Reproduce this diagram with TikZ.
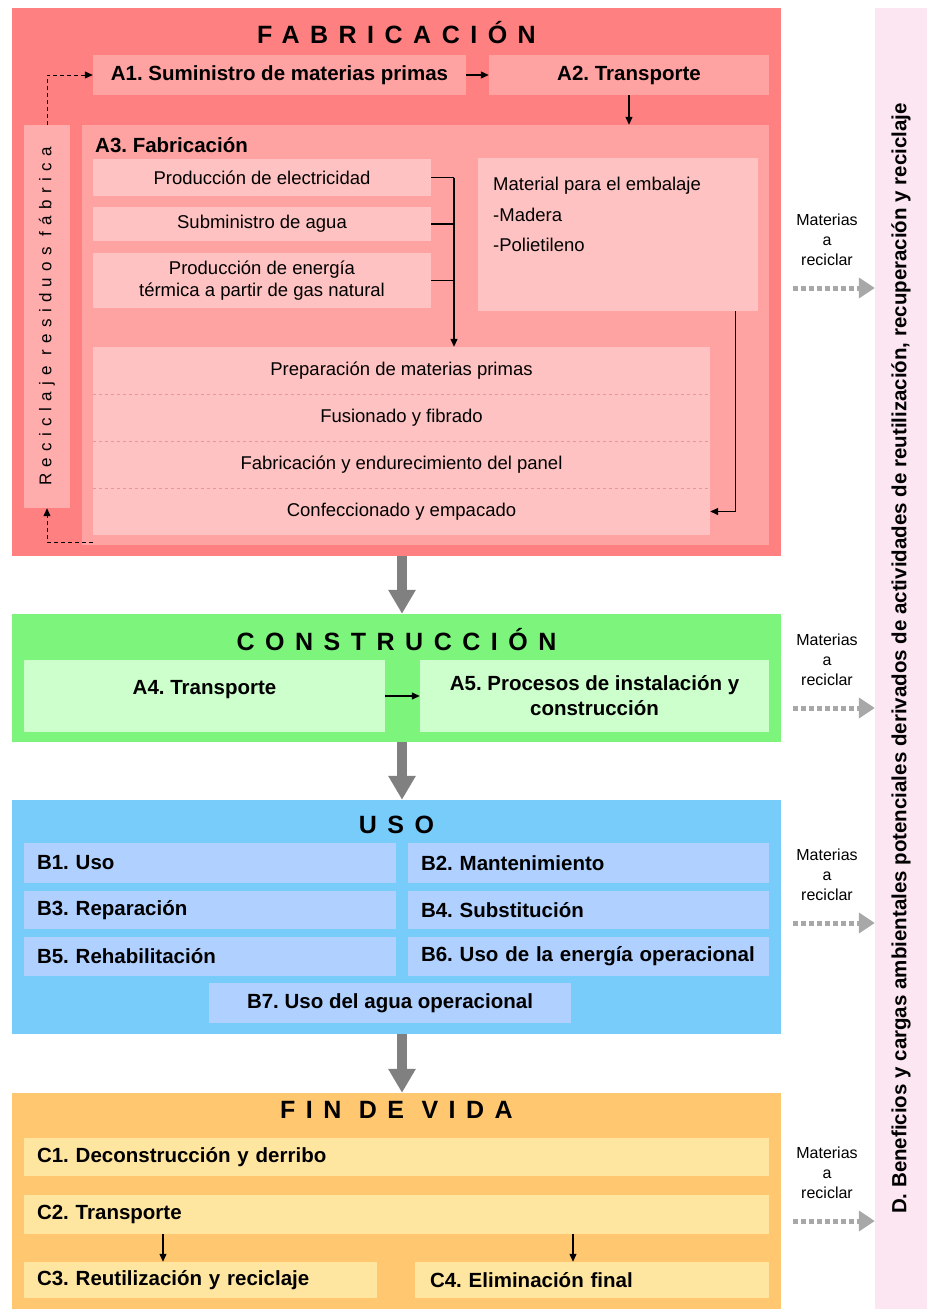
\documentclass[tikz,border=0pt]{standalone}
\usepackage{fontspec}
\setmainfont{Liberation Sans}
\usetikzlibrary{arrows.meta,positioning}
\frenchspacing

\definecolor{fabout}{RGB}{255,128,128}
\definecolor{fabin}{RGB}{255,162,162}
\definecolor{fabside}{RGB}{255,172,172}
\definecolor{fabsub}{RGB}{255,194,194}
\definecolor{fabsep}{RGB}{235,150,150}
\definecolor{consout}{RGB}{125,245,125}
\definecolor{consin}{RGB}{204,255,204}
\definecolor{usoout}{RGB}{120,204,250}
\definecolor{usoin}{RGB}{176,208,255}
\definecolor{finout}{RGB}{255,200,112}
\definecolor{finin}{RGB}{255,230,160}
\definecolor{dcol}{RGB}{252,230,242}
\definecolor{arrgray}{RGB}{128,128,128}
\definecolor{recgray}{RGB}{168,168,168}

\newcommand\boxfont{\fontsize{20.5}{25}\selectfont\bfseries}
\newcommand\plainfont{\fontsize{18.5}{22}\selectfont}
\newcommand\titlefont{\fontsize{25}{30}\selectfont\bfseries\addfontfeature{LetterSpace=42}}
\newcommand\sidefont{\fontsize{17}{20}\selectfont\addfontfeature{LetterSpace=37}}
\newcommand\matfont{\fontsize{16}{20}\selectfont}
\newcommand\dfont{\fontsize{20.5}{24}\selectfont\bfseries}

\begin{document}
\begin{tikzpicture}[x=1pt, y=-1pt,
  stage/.style={fill=#1, minimum width=769pt, inner sep=0pt},
  blk/.style={fill=#1, inner xsep=13pt, inner ysep=0pt, align=left, font=\boxfont},
  cblk/.style={fill=#1, inner sep=0pt, align=center, font=\boxfont},
  sub/.style={fill=fabsub, inner sep=0pt, align=center, font=\plainfont},
  ttl/.style={anchor=base, inner sep=0pt, font=\titlefont},
  mat/.style={inner sep=0pt, align=center, font=\matfont},
  arr/.style={line width=1.2pt, -{Triangle[length=8pt,width=7pt]}},
  recloop/.style={line width=1pt, dash pattern=on 4pt off 3pt, -{Triangle[length=8pt,width=7pt]}},
  bigarr/.style={draw=arrgray, line width=10pt, -{Triangle[length=24pt,width=26pt]}},
  recarr/.style={draw=recgray, line width=5pt, dash pattern=on 5pt off 3pt, -{Triangle[length=16pt,width=20pt]}},
  sep/.style={draw=fabsep, dashed, line width=0.6pt}
]
\useasboundingbox (0,0) rectangle (927,1309);

% fabricacion
\node[stage=fabout, minimum height=548pt] (fab) at (396.5,282) {};
\node[ttl] (fabt) at (396.5,43) {FABRICACIÓN};
\node[cblk=fabin, minimum width=373pt, minimum height=40pt] (a1) at (279.5,75) {A1. Suministro de materias primas};
\node[cblk=fabin, minimum width=280pt, minimum height=40pt] (a2) at (629,75) {A2. Transporte};
\node[fill=fabside, minimum width=46pt, minimum height=383pt, inner sep=0pt, font=\sidefont] (recyc) at (47,316.5) {\rotatebox{90}{Reciclaje residuos fábrica}};
\node[fill=fabin, minimum width=687pt, minimum height=420pt, inner sep=0pt] (a3) at (425.5,335) {};
\node[anchor=west, inner sep=0pt, font=\boxfont] (a3t) at (95,145) {A3. Fabricación};
\node[sub, minimum width=338pt, minimum height=37pt] (e1) at (262,177.5) {Producción de electricidad};
\node[sub, minimum width=338pt, minimum height=34pt] (e2) at (262,224) {Subministro de agua};
\node[sub, minimum width=338pt, minimum height=55pt] (e3) at (262,280.5) {Producción de energía\\térmica a partir de gas natural};
\node[fill=fabsub, minimum width=280pt, minimum height=153pt, inner sep=0pt] (emb) at (618,234.5) {};
\node[anchor=north west, align=left, inner sep=0pt, font=\plainfont] (embt) at (493,177) {Material para el embalaje\\[8.5pt]-Madera\\[8.5pt]-Polietileno};
\node[sub, minimum width=617pt, minimum height=47pt] (p1) at (401.5,370.5) {Preparación de materias primas};
\node[sub, minimum width=617pt, minimum height=47pt] (p2) at (401.5,417.5) {Fusionado y fibrado};
\node[sub, minimum width=617pt, minimum height=47pt] (p3) at (401.5,464.5) {Fabricación y endurecimiento del panel};
\node[sub, minimum width=617pt, minimum height=47pt] (p4) at (401.5,511.5) {Confeccionado y empacado};
\foreach \i in {1,2,3} \draw[sep] (p\i.south west) -- (p\i.south east);

\draw[arr] (a1) -- (a2);
\draw[arr] (a2.south) -- (a2.south |- a3.north);
\coordinate (brk) at (454,172);
\draw[line width=1.2pt] (e1.east) -- (e1.east -| brk);
\draw[line width=1.2pt] (e2.east) -- (e2.east -| brk);
\draw[line width=1.2pt] (e3.east) -- (e3.east -| brk);
\draw[arr] (e1.east -| brk) -- (brk |- p1.north);
\draw[arr] ([xshift=-23pt]emb.south east) |- (p4.east);
\draw[recloop] ([xshift=11pt,yshift=3pt]a3.south west) -| (recyc.south);
\draw[recloop] (recyc.north) |- (a1.west);

% construccion
\node[stage=consout, minimum height=128pt] (cons) at (396.5,678) {};
\node[ttl] (const) at (396.5,650) {CONSTRUCCIÓN};
\node[cblk=consin, minimum width=361pt, minimum height=72pt, text depth=17pt] (a4) at (204.5,696) {A4. Transporte};
\node[cblk=consin, minimum width=349pt, minimum height=72pt] (a5) at (594.5,696) {A5. Procesos de instalación y\\construcción};
\draw[arr] (a4) -- (a5);

% uso
\node[stage=usoout, minimum height=234pt] (uso) at (396.5,917) {};
\node[ttl] (usot) at (396.5,833) {USO};
\node[blk=usoin, text width=346pt, minimum height=40pt] (b1) at (210,863) {B1. Uso};
\node[blk=usoin, text width=335pt, minimum height=40pt] (b2) at (588.5,863) {B2. Mantenimiento};
\node[blk=usoin, text width=346pt, minimum height=38pt] (b3) at (210,910) {B3. Reparación};
\node[blk=usoin, text width=335pt, minimum height=38pt] (b4) at (588.5,910) {B4. Substitución};
\node[blk=usoin, text width=346pt, minimum height=39pt] (b5) at (210,956.5) {B5. Rehabilitación};
\node[blk=usoin, text width=335pt, minimum height=39pt] (b6) at (588.5,956.5) {B6. Uso de la energía operacional};
\node[cblk=usoin, minimum width=362pt, minimum height=40pt] (b7) at (390,1003) {B7. Uso del agua operacional};

% fin de vida
\node[stage=finout, minimum height=216pt] (fin) at (396.5,1201) {};
\node[ttl] (fint) at (396.5,1118) {FIN DE VIDA};
\node[blk=finin, text width=719pt, minimum height=38pt] (c1) at (396.5,1157) {C1. Deconstrucción y derribo};
\node[blk=finin, text width=719pt, minimum height=39pt] (c2) at (396.5,1214.5) {C2. Transporte};
\node[blk=finin, text width=327pt, minimum height=36pt] (c3) at (200.5,1280) {C3. Reutilización y reciclaje};
\node[blk=finin, inner xsep=15pt, text width=324pt, minimum height=36pt] (c4) at (592,1280) {C4. Eliminación final};
\coordinate (c3in) at ([xshift=-37.5pt]c3.north);
\coordinate (c4in) at ([xshift=-19pt]c4.north);
\draw[arr] (c3in |- c2.south) -- (c3in);
\draw[arr] (c4in |- c2.south) -- (c4in);

% flujo entre etapas
\draw[bigarr] ([xshift=5.5pt]fab.south) -- ([xshift=5.5pt]cons.north);
\draw[bigarr] ([xshift=5.5pt]cons.south) -- ([xshift=5.5pt]uso.north);
\draw[bigarr] ([xshift=5.5pt]uso.south) -- ([xshift=5.5pt]fin.north);

% modulo D
\node[fill=dcol, minimum width=52pt, minimum height=1301pt, inner sep=0pt, font=\dfont] (dbar) at (901,658.5) {\rotatebox{90}{D. Beneficios y cargas ambientales potenciales derivados de actividades de reutilización, recuperación y reciclaje}};
\foreach \y/\n in {240/1, 660/2, 875/3, 1173/4} {
  \node[mat] (mat\n) at (827,\y) {Materias\\a\\reciclar};
  \coordinate (r\n) at (793,\y+48);
  \draw[recarr] (r\n) -- (r\n -| dbar.west);
}
\end{tikzpicture}
\end{document}
